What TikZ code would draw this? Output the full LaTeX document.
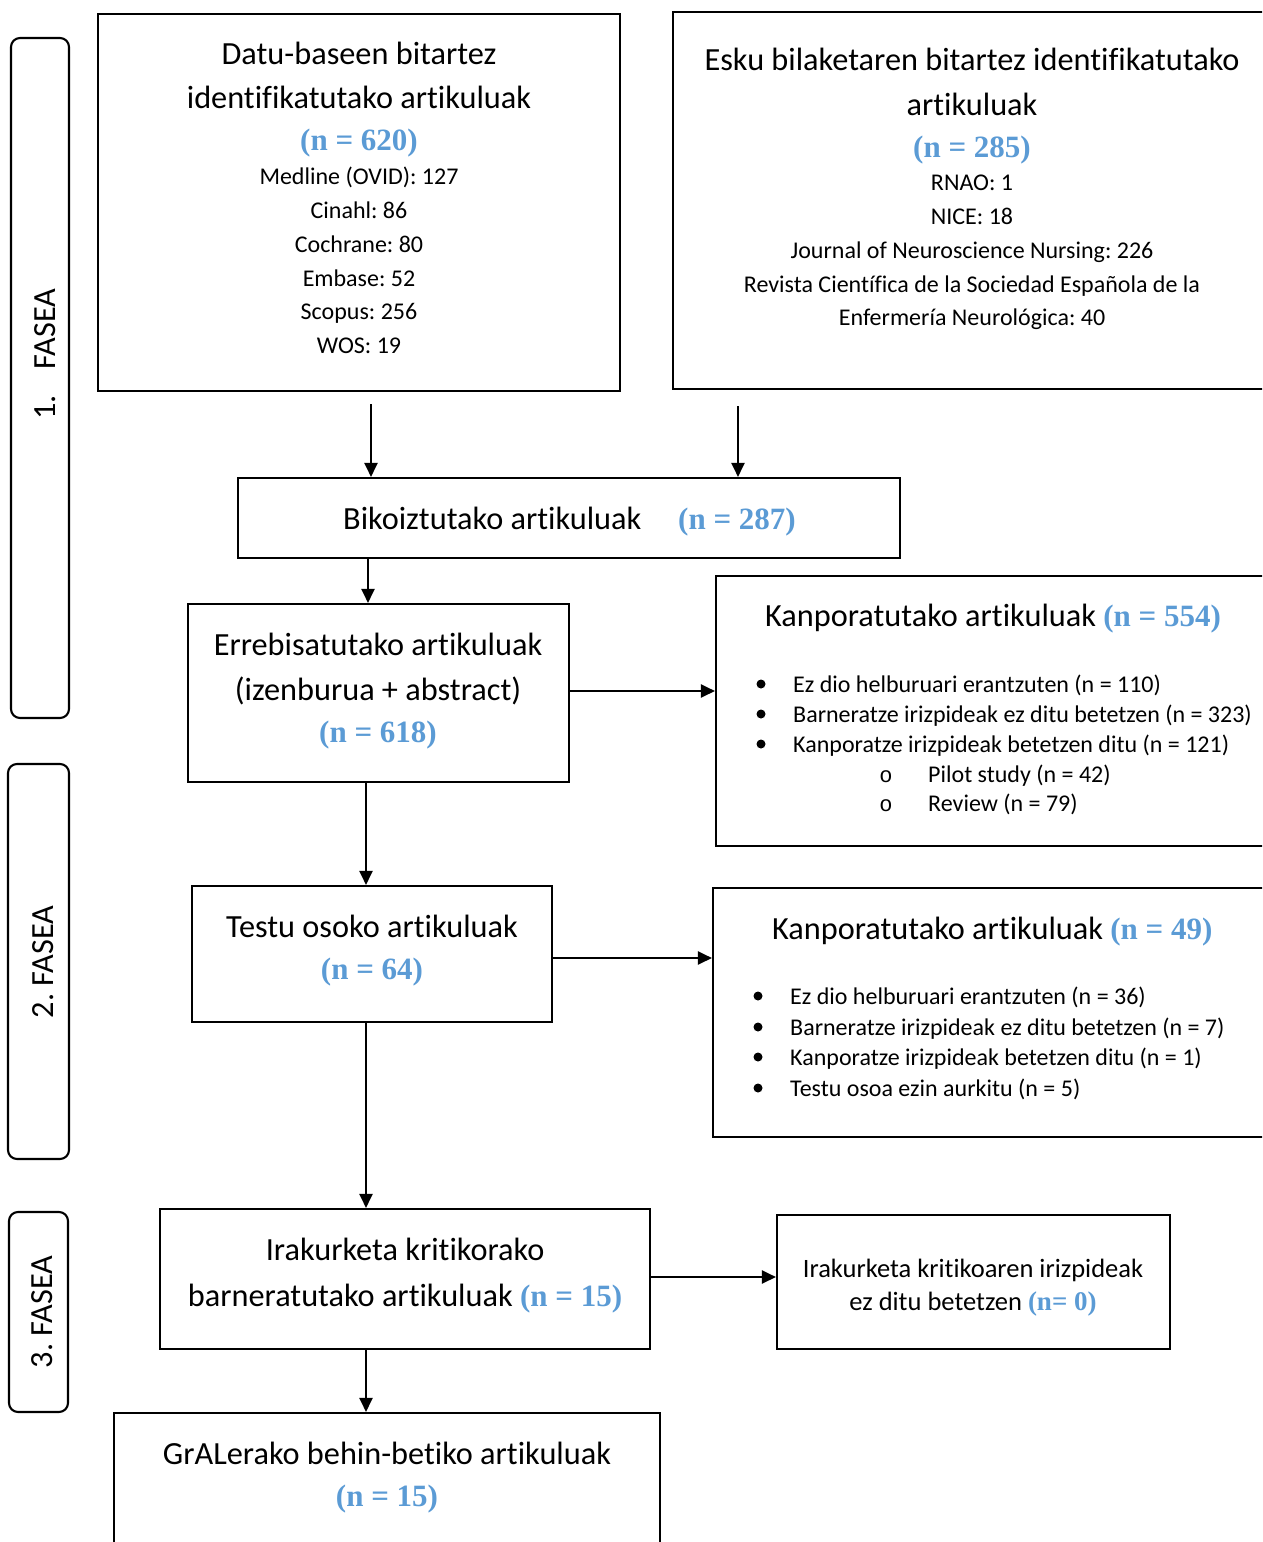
\documentclass[tikz,border=0pt]{standalone}
\usepackage{fontspec}
\setmainfont{Carlito}[Ligatures={NoCommon}]
\newfontfamily\bluefont{Liberation Serif}
\newfontfamily\monofont{Liberation Mono}
\usetikzlibrary{arrows.meta}
\frenchspacing
\definecolor{nblue}{HTML}{5B9BD5}
\newcommand{\nbig}[1]{{\bluefont\bfseries\fontsize{31}{37}\selectfont\color{nblue}#1}}
\newcommand{\nmid}[1]{{\bluefont\bfseries\fontsize{27}{32}\selectfont\color{nblue}#1}}
\newcommand{\fbig}{\fontsize{32.3}{38}\selectfont}
\newcommand{\fsmall}{\fontsize{24}{29}\selectfont}
\newcommand{\fmid}{\fontsize{26.5}{31}\selectfont}
\begin{document}
\begin{tikzpicture}[x=1pt,y=-1pt,
  box/.style={draw, line width=2.1pt, rectangle, inner sep=0pt},
  phase/.style={draw, line width=2.1pt, rectangle, rounded corners=9pt, inner sep=0pt},
  tb/.style={inner sep=0pt, anchor=base, font=\fbig},
  ts/.style={inner sep=0pt, anchor=base, font=\fsmall},
  tm/.style={inner sep=0pt, anchor=base, font=\fmid},
  tbw/.style={inner sep=0pt, anchor=base west, font=\fbig},
  tsw/.style={inner sep=0pt, anchor=base west, font=\fsmall},
  dot/.style={circle, fill=black, inner sep=0pt, minimum size=9pt},
  sub/.style={inner sep=0pt, anchor=base, font=\monofont\fontsize{22}{26}\selectfont},
  arr/.style={line width=2.1pt, -{Triangle[length=14pt,width=13pt]}},
  rot/.style={inner sep=0pt, rotate=90, font=\fbig}]
\useasboundingbox (0,0) rectangle (1262,1542);
\fill[white] (0,0) rectangle (1262,1542);
\clip (0,0) rectangle (1262,1542);

% phase boxes
\node[phase, minimum width=58pt, minimum height=680pt] (f1) at (40,378) {};
\node[phase, minimum width=61pt, minimum height=395pt] (f2) at (38.5,961.5) {};
\node[phase, minimum width=59pt, minimum height=200pt] (f3) at (38.5,1312) {};
\node[rot] (f1t) at (45,354) {1.\hspace{26pt}FASEA};
\node[rot] (f2t) at (43,962) {2. FASEA};
\node[rot] (f3t) at (42,1312) {3. FASEA};

% boxes
\node[box, minimum width=522pt, minimum height=377pt] (b1) at (359,202.5) {};
\node[box, minimum width=627pt, minimum height=377pt] (b2) at (986.5,200.5) {};
\node[box, minimum width=662pt, minimum height=80pt] (b3) at (569,518) {};
\node[box, minimum width=381pt, minimum height=178pt] (b4) at (378.5,693) {};
\node[box, minimum width=584pt, minimum height=270pt] (b5) at (1008,711) {};
\node[box, minimum width=360pt, minimum height=136pt] (b6) at (372,954) {};
\node[box, minimum width=587pt, minimum height=249pt] (b7) at (1006.5,1012.5) {};
\node[box, minimum width=490pt, minimum height=140pt] (b8) at (405,1279) {};
\node[box, minimum width=393pt, minimum height=134pt] (b9) at (973.5,1282) {};
\node[box, minimum width=546pt, minimum height=187pt] (b10) at (387,1506.5) {};

% box 1 text
\node[tb] (t11) at (359,64) {Datu-baseen bitartez};
\node[tb] (t12) at (359,108) {identifikatutako artikuluak};
\node[tb] (t13) at (359,150) {\nbig{(n = 620)}};
\node[ts] (t14) at (359,184) {Medline (OVID): 127};
\node[ts] (t15) at (359,218) {Cinahl: 86};
\node[ts] (t16) at (359,252) {Cochrane: 80};
\node[ts] (t17) at (359,286) {Embase: 52};
\node[ts] (t18) at (359,319) {Scopus: 256};
\node[ts] (t19) at (359,353) {WOS: 19};

% box 2 text
\node[tb] (t21) at (972,70) {Esku bilaketaren bitartez identifikatutako};
\node[tb] (t22) at (972,115) {artikuluak};
\node[tb] (t23) at (972,157) {\nbig{(n = 285)}};
\node[ts] (t24) at (972,190) {RNAO: 1};
\node[ts] (t25) at (972,224) {NICE: 18};
\node[ts] (t26) at (972,258) {Journal of Neuroscience Nursing: 226};
\node[ts] (t27) at (972,292) {Revista Científica de la Sociedad Española de la};
\node[ts] (t28) at (972,325) {Enfermería Neurológica: 40};

% box 3 text
\node[tbw] (t31) at (343,529) {Bikoiztutako artikuluak};
\node[tbw] (t32) at (678,529) {\nbig{(n = 287)}};

% box 4 text
\node[tb] (t41) at (378,655) {Errebisatutako artikuluak};
\node[tb] (t42) at (378,700) {(izenburua + abstract)};
\node[tb] (t43) at (378,742) {\nbig{(n = 618)}};

% box 5 text
\node[tbw] (t51) at (765,626) {Kanporatutako artikuluak \nbig{(n = 554)}};
\node[dot] (d51) at (761,684) {};
\node[dot] (d52) at (761,714) {};
\node[dot] (d53) at (761,744) {};
\node[tsw] (t52) at (793,692) {Ez dio helburuari erantzuten (n = 110)};
\node[tsw] (t53) at (793,722) {Barneratze irizpideak ez ditu betetzen (n = 323)};
\node[tsw] (t54) at (793,752) {Kanporatze irizpideak betetzen ditu (n = 121)};
\node[sub] (o51) at (886,782) {o};
\node[sub] (o52) at (886,811) {o};
\node[tsw] (t55) at (928,782) {Pilot study (n = 42)};
\node[tsw] (t56) at (928,811) {Review (n = 79)};

% box 6 text
\node[tb] (t61) at (372,937) {Testu osoko artikuluak};
\node[tb] (t62) at (372,979) {\nbig{(n = 64)}};

% box 7 text
\node[tbw] (t71) at (772,939) {Kanporatutako artikuluak \nbig{(n = 49)}};
\node[dot] (d71) at (758,996) {};
\node[dot] (d72) at (758,1027) {};
\node[dot] (d73) at (758,1057) {};
\node[dot] (d74) at (758,1088) {};
\node[tsw] (t72) at (790,1004) {Ez dio helburuari erantzuten (n = 36)};
\node[tsw] (t73) at (790,1035) {Barneratze irizpideak ez ditu betetzen (n = 7)};
\node[tsw] (t74) at (790,1065) {Kanporatze irizpideak betetzen ditu (n = 1)};
\node[tsw] (t75) at (790,1096) {Testu osoa ezin aurkitu (n = 5)};

% box 8 text
\node[tb] (t81) at (405,1260) {Irakurketa kritikorako};
\node[tb] (t82) at (405,1306) {barneratutako artikuluak \nbig{(n = 15)}};

% box 9 text
\node[tm] (t91) at (973,1277) {Irakurketa kritikoaren irizpideak};
\node[tm] (t92) at (973,1310) {ez ditu betetzen \nmid{(n= 0)}};

% box 10 text
\node[tb] (t101) at (387,1464) {GrALerako behin-betiko artikuluak};
\node[tb] (t102) at (387,1506) {\nbig{(n = 15)}};

% connectors
\coordinate (s1) at (371,404);
\coordinate (s2) at (738,406);
\coordinate (xa) at (368,0);
\coordinate (xb) at (366,0);
\coordinate (ya) at (0,691);
\coordinate (yb) at (0,958);
\coordinate (yc) at (0,1277);
\draw[arr] (s1) -- (s1 |- b3.north);
\draw[arr] (s2) -- (s2 |- b3.north);
\draw[arr] (b3.south -| xa) -- (b4.north -| xa);
\draw[arr] (b4.east |- ya) -- (b5.west |- ya);
\draw[arr] (b4.south -| xb) -- (b6.north -| xb);
\draw[arr] (b6.east |- yb) -- (b7.west |- yb);
\draw[arr] (b6.south -| xb) -- (b8.north -| xb);
\draw[arr] (b8.east |- yc) -- (b9.west |- yc);
\draw[arr] (b8.south -| xb) -- (b10.north -| xb);
\end{tikzpicture}
\end{document}
